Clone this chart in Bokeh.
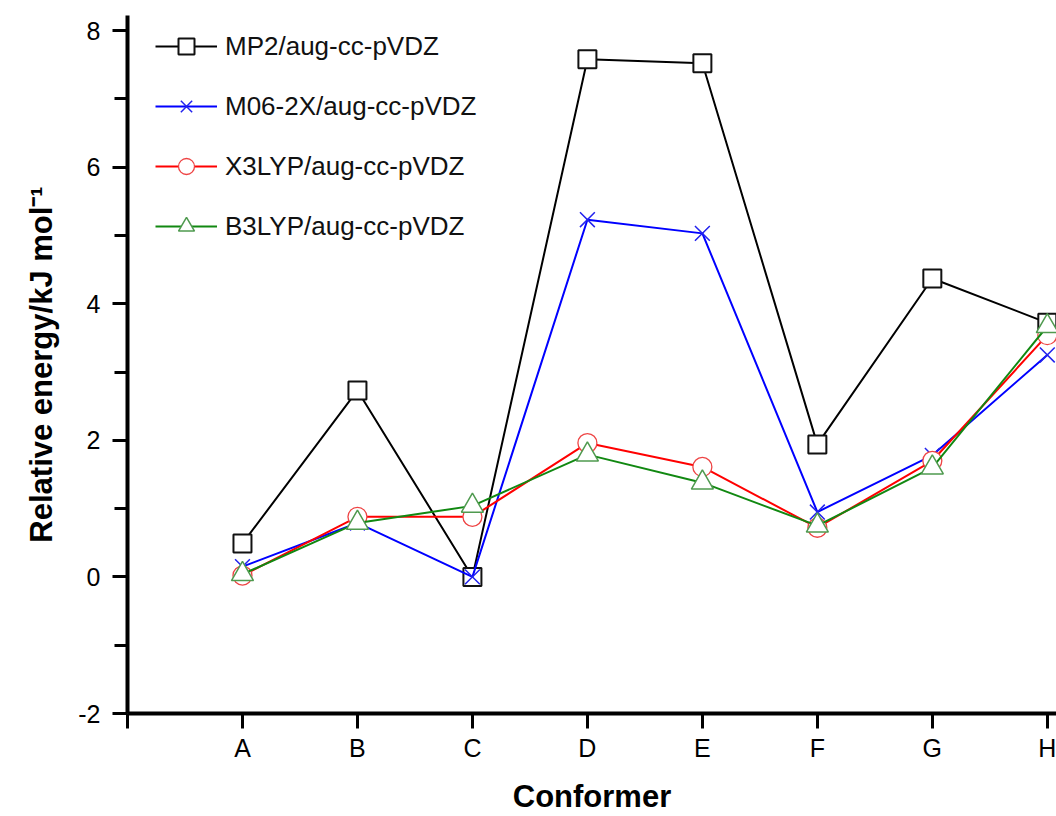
from bokeh.plotting import figure
from bokeh.models import Range1d, FixedTicker, Legend, LegendItem
from bokeh.embed import file_html
from bokeh.resources import INLINE

conformers = ["A", "B", "C", "D", "E", "F", "G", "H"]
mp2 = [0.49, 2.73, 0.0, 7.58, 7.52, 1.94, 4.37, 3.72]
m062x = [0.15, 0.79, 0.0, 5.23, 5.03, 0.95, 1.78, 3.25]
x3lyp = [0.02, 0.88, 0.88, 1.96, 1.61, 0.72, 1.70, 3.54]
b3lyp = [0.04, 0.79, 1.04, 1.79, 1.38, 0.75, 1.60, 3.67]
series_names = ["MP2/aug-cc-pVDZ", "M06-2X/aug-cc-pVDZ", "X3LYP/aug-cc-pVDZ", "B3LYP/aug-cc-pVDZ"]
y_ticks = [-2, 0, 2, 4, 6, 8]

FONT = "Liberation Sans"
xs = list(range(1, len(conformers) + 1))

p = figure(width=1056, height=816, output_backend="svg", toolbar_location=None,
           x_range=Range1d(0, 8.08), y_range=Range1d(-2, 8.22),
           min_border_left=127, min_border_right=0, min_border_top=15, min_border_bottom=103)
p.outline_line_color = None
p.grid.visible = False
p.background_fill_color = "white"
p.border_fill_color = "white"

styles = [
    dict(data=mp2, color="black", marker="square", size=18, mcolor="#111111", lw=2),
    dict(data=m062x, color="#0000FF", marker="x", size=21, mcolor="#2222EE", lw=1.5),
    dict(data=x3lyp, color="#FF0000", marker="circle", size=19, mcolor="#EE4444", lw=1.3),
    dict(data=b3lyp, color="#118811", marker="triangle", size=22, mcolor="#4F9A4F", lw=1.5),
]

items = []
for name, st in zip(series_names, styles):
    ln = p.line(xs, st["data"], line_color=st["color"], line_width=2)
    sc = p.scatter(xs, st["data"], marker=st["marker"], size=st["size"],
                   fill_color="white" if st["marker"] != "x" else None,
                   line_color=st["mcolor"], line_width=st["lw"])
    items.append(LegendItem(label=name, renderers=[ln, sc]))

legend = Legend(items=items, location=(28, 467), border_line_color=None,
                background_fill_alpha=0, padding=0, margin=0, spacing=20,
                glyph_width=62, glyph_height=40, label_standoff=8,
                label_text_font=FONT, label_text_font_size="26px", label_height=40,
                label_text_color="#111111")
p.add_layout(legend, "center")

# axes
for ax in (p.xaxis[0], p.yaxis[0]):
    ax.axis_line_width = 4
    ax.axis_line_color = "black"
    ax.major_tick_line_width = 3
    ax.minor_tick_line_width = 3
    ax.major_tick_in = 0
    ax.major_tick_out = 15
    ax.minor_tick_in = 0
    ax.minor_tick_out = 13
    ax.major_label_text_font = FONT
    ax.major_label_text_font_size = "25px"
    ax.major_label_text_color = "black"
    ax.axis_label_text_font = FONT
    ax.axis_label_text_font_style = "bold"
    ax.axis_label_text_font_size = "31px"
    ax.axis_label_text_color = "black"

p.xaxis.ticker = FixedTicker(ticks=list(range(0, len(conformers) + 1)), minor_ticks=[])
p.xaxis.major_label_overrides = {0: "", **{i + 1: c for i, c in enumerate(conformers)}}
p.xaxis.axis_label = "Conformer"
p.xaxis.major_label_standoff = 5
p.xaxis.axis_label_standoff = 14

p.yaxis.ticker = FixedTicker(ticks=y_ticks, minor_ticks=[-1, 1, 3, 5, 7])
p.yaxis.major_label_overrides = {t: str(t) for t in y_ticks}
p.yaxis.axis_label = "Relative energy/kJ mol\u207B\u00B9"
p.yaxis.major_label_standoff = 12
p.yaxis.axis_label_standoff = 16

open("out.html", "w").write(file_html(p, INLINE))
